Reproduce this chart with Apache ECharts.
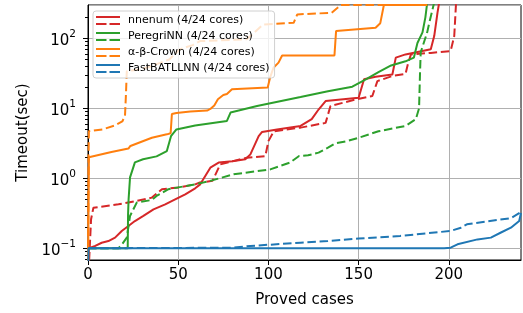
<!DOCTYPE html>
<html>
<head>
<meta charset="utf-8">
<title></title>
<script type="text/javascript" src="https://cdn.jsdelivr.net/npm/echarts@6/dist/echarts.min.js"></script>
</head>
<body style="margin:0">
<div id="main" style="width:523px;height:313px;"></div>
<script type="text/javascript">
// solver names (solid + dashed curves share one legend entry)
var names = ['nnenum (4/24 cores)', 'PeregriNN (4/24 cores)', 'α-β-Crown (4/24 cores)', 'FastBATLLNN (4/24 cores)'];
var colors = ['#d62728', '#2ca02c', '#ff7f0e', '#1f77b4'];
var xTicks = [0, 50, 100, 150, 200];
var minorTicks = [0.07, 0.08, 0.09, 0.2, 0.3, 0.4, 0.5, 0.6, 0.7, 0.8, 0.9,
    2, 3, 4, 5, 6, 7, 8, 9, 20, 30, 40, 50, 60, 70, 80, 90, 200];

// [proved cases, time in sec]
var nnenumSolid = [[0,0.05],[0.5,0.1],[4,0.108],[7.6,0.12],[11.3,0.127],[15,0.142],[18.7,0.177],[22.4,0.208],
    [26,0.245],[30.7,0.29],[36.3,0.36],[42.8,0.425],[48.3,0.5],[53.9,0.59],[59.4,0.72],[62.2,0.82],[65,1.08],
    [67.8,1.42],[72.4,1.68],[80,1.75],[87.2,1.87],[90,2.2],[94.6,4.0],[96.5,4.6],[104.8,5.0],[117.8,5.6],
    [124,7.0],[127.9,9.7],[131.7,12.7],[150,14.2],[153,26],[159.4,28.3],[168.7,30.5],[170.6,53],[176,59],
    [190,70],[191.9,108],[193.7,232],[194.6,320]];
var nnenumDashed = [[0,0.03],[1.7,0.26],[3,0.38],[16.9,0.425],[26,0.47],[35.4,0.53],[41,0.70],[50,0.74],
    [59.4,0.82],[62,0.87],[69,0.92],[73.3,1.58],[88,1.97],[98.3,2.08],[100,3.4],[103,4.7],[117.8,5.3],
    [131.7,6.2],[134.4,10.8],[148.3,13.4],[157.6,15],[160.4,24.5],[168.7,29],[176,31],[177.5,45],[179,59],
    [190,62],[201,66],[203,108],[204,320]];
var peregrinnSolid = [[0,0.1],[22,0.1],[22.2,0.3],[22.5,0.5],[23.3,1.03],[26,1.69],[30.5,1.87],[38,2.06],
    [43.7,2.45],[46,4.0],[49,5.0],[59.4,5.7],[77,6.6],[79,8.7],[93.7,10.8],[117.8,14.5],[133,17.6],
    [146.5,20.4],[154,26],[161,33],[168,41],[176,47],[180.6,53],[182.6,86],[185.4,122],[187,200],[188,320]];
var peregrinnDashed = [[0,0.1],[16.9,0.1],[19,0.115],[21.5,0.142],[23.3,0.29],[27,0.45],[35.4,0.49],[38,0.56],
    [44.6,0.70],[59.4,0.82],[67.8,0.92],[80.7,1.14],[101,1.34],[112,1.68],[117,2.08],[122,2.13],[127.8,2.33],
    [133,2.74],[137,3.16],[143.7,3.41],[150,3.8],[161,4.7],[176,5.6],[181.7,7.0],[183.5,10],[184,30],
    [184.4,63],[188,122],[189,160],[191.8,320]];
var crownSolid = [[0,0.03],[0.5,2.0],[13,2.38],[22.4,2.66],[23.5,2.9],[35.4,3.8],[43.7,4.25],[45.8,4.4],
    [46.5,8.3],[49,8.6],[56.7,9.0],[66,9.3],[67.8,9.8],[70,11],[72,13.5],[75,15.5],[77,16],[79.8,18.7],
    [99.6,19.8],[101,28],[102.8,38],[105.6,45],[107.6,57],[136.6,57],[137.5,127],[159.4,142],[162,165],
    [164,300],[188,300]];
var crownDashed = [[0,0.03],[0.3,2],[0.5,4.7],[8,5.0],[15,5.7],[19,6.5],[20.5,7.8],[21,15],[21.5,34],
    [28.9,36],[35,40],[45,50],[51,70],[58,80],[62,91.5],[88,97],[92,120],[97,158],[114,167],[116,220],
    [135,232],[138,270],[140,300],[188,300]];
var fastSolid = [[0,0.03],[0.3,0.1],[197.4,0.1],[201,0.102],[204.8,0.114],[215.9,0.134],[223.3,0.142],
    [228.9,0.168],[234.4,0.197],[239,0.245],[240,0.32]];
var fastDashed = [[0,0.1],[80.7,0.102],[90,0.108],[117.8,0.12],[133,0.127],[150,0.138],[173,0.15],
    [201,0.177],[206.7,0.197],[210,0.22],[234.4,0.27],[240,0.33]];

var curves = [
    [nnenumSolid, nnenumDashed],
    [peregrinnSolid, peregrinnDashed],
    [crownSolid, crownDashed],
    [fastSolid, fastDashed]
];

var series = [];
curves.forEach(function (pair, i) {
    pair.forEach(function (d, k) {
        series.push({
            name: names[i],
            type: 'line',
            data: d,
            showSymbol: false,
            symbol: 'none',
            clip: true,
            color: colors[i],
            lineStyle: { width: 2, color: colors[i], type: k === 0 ? 'solid' : [8.5, 3.7] }
        });
    });
});

var plotWidth = 523 - 88 - 2;

var myChart = echarts.init(document.getElementById('main'));
myChart.setOption({
    animation: false,
    textStyle: { fontFamily: 'DejaVu Sans' },
    grid: { left: 88, right: 2, top: 5, bottom: 52, show: true, borderColor: '#000', borderWidth: 1 },
    legend: {
        orient: 'vertical',
        left: 93,
        top: 11,
        data: names,
        icon: 'path://M0,0H24V2H0Z M0,7H10.5V9H0Z M13.5,7H24V9H13.5Z',
        itemWidth: 24,
        itemHeight: 9,
        itemGap: 5,
        padding: [4, 5, 4, 3],
        backgroundColor: 'rgba(255,255,255,0.8)',
        borderColor: '#d0d0d0',
        borderWidth: 1,
        borderRadius: 3,
        textStyle: { fontSize: 11, color: '#000', fontFamily: 'DejaVu Sans', padding: [0, 0, 0, 3] }
    },
    xAxis: {
        type: 'value',
        min: 0,
        max: 240,
        interval: 50,
        name: 'Proved cases',
        nameLocation: 'middle',
        nameGap: 33,
        nameTextStyle: { fontSize: 15, color: '#000' },
        axisLine: { lineStyle: { color: '#000', width: 1 } },
        axisTick: { length: 5, lineStyle: { color: '#000' }, customValues: xTicks },
        axisLabel: { fontSize: 15, color: '#000', margin: 8, customValues: xTicks },
        splitLine: { lineStyle: { color: '#b0b0b0', width: 1 } }
    },
    yAxis: [{
        type: 'log',
        logBase: 10,
        min: 0.068,
        max: 300,
        position: 'left',
        name: 'Timeout(sec)',
        nameLocation: 'middle',
        nameGap: 52,
        nameTextStyle: { fontSize: 15, color: '#000' },
        axisLine: { show: true, lineStyle: { color: '#000', width: 1 } },
        axisTick: { show: true, length: 5, lineStyle: { color: '#000' } },
        axisLabel: {
            showMinLabel: false,
            showMaxLabel: false,
            margin: 12,
            formatter: function (v) {
                var e = Math.round(Math.log10(v));
                return '{b|10}{s|' + (e < 0 ? '\u2212' + (-e) : e) + '}';
            },
            rich: {
                b: { fontSize: 15, color: '#000', verticalAlign: 'bottom', lineHeight: 20 },
                s: { fontSize: 10.5, color: '#000', verticalAlign: 'top', lineHeight: 20 }
            }
        },
        splitLine: { lineStyle: { color: '#b0b0b0', width: 1 } }
    }, {
        // minor ticks: right-side axis shifted onto the left spine, ticks pointing outward (left)
        type: 'log',
        logBase: 10,
        min: 0.068,
        max: 300,
        position: 'right',
        offset: -plotWidth,
        axisLine: { show: false },
        axisTick: { show: true, inside: true, length: 3, lineStyle: { color: '#000' }, customValues: minorTicks },
        axisLabel: { show: false },
        splitLine: { show: false }
    }],
    series: series
});
</script>
</body>
</html>
